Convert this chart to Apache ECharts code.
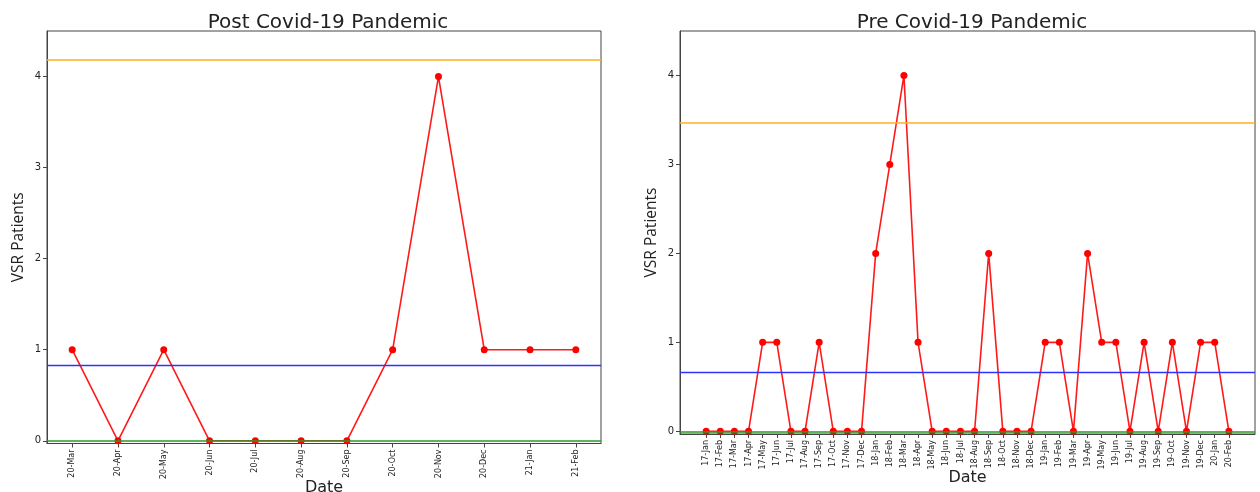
<!DOCTYPE html>
<html>
<head>
<meta charset="utf-8">
<script src="https://cdn.jsdelivr.net/npm/echarts@6/dist/echarts.min.js"></script>
<style>
html,body{margin:0;padding:0;background:#fff;}
#chart{width:1260px;height:492px;}
</style>
</head>
<body>
<div id="chart"></div>
<script>
// ---- data ----
const postTitle = 'Post Covid-19 Pandemic';
const preTitle = 'Pre Covid-19 Pandemic';
const postCategories = ['20-Mar','20-Apr','20-May','20-Jun','20-Jul','20-Aug','20-Sep','20-Oct','20-Nov','20-Dec','21-Jan','21-Feb'];
const postValues = [1,0,1,0,0,0,0,1,4,1,1,1];
const postUpper = 4.18;
const postMean = 0.83;
const postLower = 0;

const preCategories = ['17-Jan','17-Feb','17-Mar','17-Apr','17-May','17-Jun','17-Jul','17-Aug','17-Sep','17-Oct','17-Nov','17-Dec',
  '18-Jan','18-Feb','18-Mar','18-Apr','18-May','18-Jun','18-Jul','18-Aug','18-Sep','18-Oct','18-Nov','18-Dec',
  '19-Jan','19-Feb','19-Mar','19-Apr','19-May','19-Jun','19-Jul','19-Aug','19-Sep','19-Oct','19-Nov','19-Dec',
  '20-Jan','20-Feb'];
const preValues = [0,0,0,0,1,1,0,0,1,0,0,0,
  2,3,4,1,0,0,0,0,2,0,0,0,
  1,1,0,2,1,1,0,1,0,1,0,1,
  1,0];
const preUpper = 3.47;
const preMean = 0.66;
const preLower = 0;
const yTicks = [0,1,2,3,4];

// ---- build ----
const chart = echarts.init(document.getElementById('chart'), null, {renderer:'canvas'});
const axisColor = '#444';
const textColor = '#222';

function xAxisFor(cats, gridIndex, fontSize){
  const n = cats.length;
  const idx = cats.map((c,i)=>i);
  return {
    type:'value', gridIndex,
    min: -0.05*(n-1), max: (n-1)*1.05,
    name:'Date', nameLocation:'middle', nameGap:36, nameMoveOverlap:false,
    nameTextStyle:{fontFamily:'DejaVu Sans', fontSize:16, color:textColor},
    axisLine:{show:true, onZero:false, lineStyle:{color:axisColor}},
    axisTick:{show:true, customValues: idx, length:4, lineStyle:{color:axisColor}},
    axisLabel:{customValues: idx, rotate:90, fontFamily:'DejaVu Sans', fontSize:fontSize, color:textColor, margin:6,
      formatter: v => cats[Math.round(v)]},
    splitLine:{show:false}
  };
}
function yAxisFor(gridIndex){
  return {
    type:'value', gridIndex, min:-0.03, max:4.5,
    name:'VSR Patients', nameLocation:'middle', nameGap:20, nameRotate:90, nameMoveOverlap:false,
    nameTextStyle:{fontFamily:'Open Sans', fontSize:15.5, color:textColor},
    axisLine:{show:true, onZero:false, lineStyle:{color:axisColor}},
    axisTick:{show:true, customValues:yTicks, length:4, lineStyle:{color:axisColor}},
    axisLabel:{customValues:yTicks, fontFamily:'DejaVu Sans', fontSize:10, color:textColor, margin:6},
    splitLine:{show:false}
  };
}
function mainSeries(vals, i){
  return {
    type:'line', xAxisIndex:i, yAxisIndex:i, z:2,
    data: vals.map((v,k)=>[k,v]),
    symbol:'circle', symbolSize:7,
    lineStyle:{color:'#ff1a1a', width:1.6},
    itemStyle:{color:'#ff0000'}
  };
}
function limitSeries(upper, mean, lower, i){
  return {
    type:'line', xAxisIndex:i, yAxisIndex:i, z:3, data:[],
    markLine:{
      silent:true, symbol:'none', label:{show:false}, animation:false,
      data:[
        {yAxis:upper, lineStyle:{color:'#ffb020', width:1.5, type:'solid'}},
        {yAxis:mean, lineStyle:{color:'#3030ff', width:1.3, type:'solid'}},
        {yAxis:lower, lineStyle:{color:'#2a9a2a', width:1.5, type:'solid'}}
      ]
    }
  };
}

const option = {
  animation:false,
  backgroundColor:'#fff',
  title:[
    {text:postTitle, left:323, top:8, textAlign:'center', textStyle:{fontFamily:'DejaVu Sans', fontSize:20, fontWeight:'normal', color:textColor}},
    {text:preTitle, left:967, top:8, textAlign:'center', textStyle:{fontFamily:'DejaVu Sans', fontSize:20, fontWeight:'normal', color:textColor}}
  ],
  grid:[
    {left:47, right:659, top:31, bottom:48.5, show:true, borderColor:axisColor, borderWidth:1, containLabel:false, outerBoundsMode:'none'},
    {left:680, right:5, top:31, bottom:58, show:true, borderColor:axisColor, borderWidth:1, containLabel:false, outerBoundsMode:'none'}
  ],
  xAxis:[xAxisFor(postCategories,0,8), xAxisFor(preCategories,1,8)],
  yAxis:[yAxisFor(0), yAxisFor(1)],
  series:[
    mainSeries(postValues,0), limitSeries(postUpper,postMean,postLower,0),
    mainSeries(preValues,1), limitSeries(preUpper,preMean,preLower,1)
  ]
};
chart.setOption(option);
</script>
</body>
</html>
